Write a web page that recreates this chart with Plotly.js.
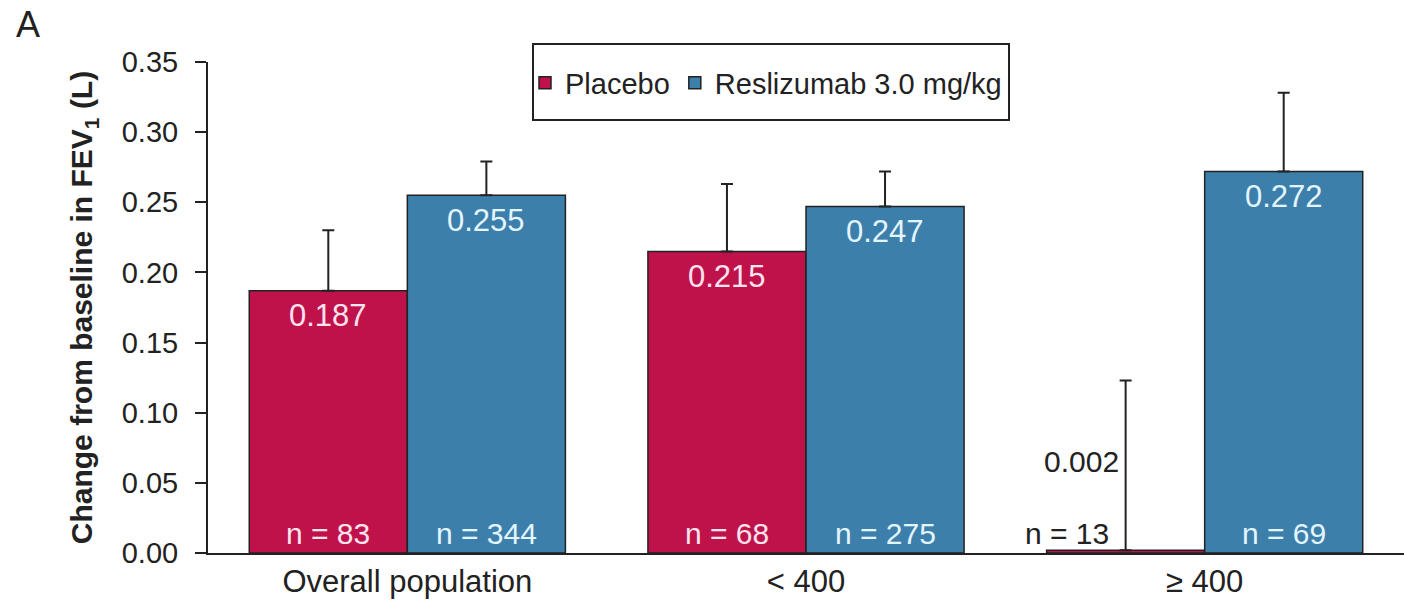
<!DOCTYPE html>
<html>
<head>
<meta charset="utf-8">
<script src="https://cdn.plot.ly/plotly-3.0.1.min.js"></script>
<style>html,body{margin:0;padding:0;background:#fff;}#chart{width:1404px;height:601px;}</style>
</head>
<body>
<div id="chart"></div>
<script>
// ---- data ----
const categories = ["Overall population", "< 400", "\u2265 400"];
const seriesNames = ["Placebo", "Reslizumab 3.0 mg/kg"];
const placeboValues = [0.187, 0.215, 0.002];
const reslizumabValues = [0.255, 0.247, 0.272];
const placeboErrors = [0.043, 0.048, 0.121];
const reslizumabErrors = [0.024, 0.025, 0.056];
const placeboN = [83, 68, 13];
const reslizumabN = [344, 275, 69];
const yTickValues = [0, 0.05, 0.10, 0.15, 0.20, 0.25, 0.30, 0.35];

// ---- style ----
const FONT = '"Liberation Sans", Arial, Helvetica, sans-serif';
const DARK = '#222222';
const colors = ['#C0124A', '#3D7FAB'];
const labelColors = ['#FFE3EE', '#E3F5FF'];
const bargap = 0.207;
const half = (1 - bargap) / 4;   // offset of each bar centre from the category centre

const values = [placeboValues, reslizumabValues];
const errors = [placeboErrors, reslizumabErrors];
const ns = [placeboN, reslizumabN];

const traces = values.map((v, s) => ({
  type: 'bar',
  name: seriesNames[s],
  x: categories,
  y: v,
  marker: {color: colors[s], line: {color: DARK, width: 1.5}},
  error_y: {type: 'data', array: errors[s], symmetric: false, arrayminus: v.map(() => 0),
            color: DARK, thickness: 2, width: 6},
  hoverinfo: 'x+y'
}));

// plot area geometry in px
const L = 208, R = 0, T = 62, B = 48, W = 1404, H = 601;
const pw = W - L - R, ph = H - T - B;
const px = x => (x - L) / pw;
const py = y => (H - B - y) / ph;

const annotations = [];
values.forEach((v, s) => {
  v.forEach((val, i) => {
    const xc = i + (s === 0 ? -half : half);
    const small = val < 0.03;
    if (!small) {
      annotations.push({x: xc, y: val, xref: 'x', yref: 'y', text: val.toFixed(3),
        showarrow: false, yanchor: 'middle', yshift: -25,
        font: {family: FONT, size: 31, color: labelColors[s]}});
      annotations.push({x: xc, y: 0, xref: 'x', yref: 'y', text: 'n = ' + ns[s][i],
        showarrow: false, yanchor: 'middle', yshift: 20,
        font: {family: FONT, size: 30, color: labelColors[s]}});
    } else {
      annotations.push({x: xc, y: val + errors[s][i] / 2, xref: 'x', yref: 'y', text: val.toFixed(3),
        showarrow: false, xanchor: 'right', yanchor: 'middle', xshift: -5, yshift: 4,
        font: {family: FONT, size: 30, color: DARK}});
      annotations.push({x: xc, y: 0, xref: 'x', yref: 'y', text: 'n = ' + ns[s][i],
        showarrow: false, xanchor: 'right', yanchor: 'middle', xshift: -15, yshift: 20,
        font: {family: FONT, size: 30, color: DARK}});
    }
  });
});
annotations.push({x: px(14), y: py(24), xref: 'paper', yref: 'paper', text: 'A',
  showarrow: false, xanchor: 'left', yanchor: 'middle',
  font: {family: FONT, size: 36, color: DARK}});

const layout = {
  width: W, height: H,
  margin: {l: L, r: R, t: T, b: B, pad: 0},
  paper_bgcolor: '#ffffff', plot_bgcolor: '#ffffff',
  font: {family: FONT, color: DARK, size: 29},
  barmode: 'group', bargap: bargap, bargroupgap: 0,
  showlegend: true,
  legend: {orientation: 'h', x: px(525), xanchor: 'left', y: py(83), yanchor: 'middle',
           bgcolor: 'rgba(0,0,0,0)', borderwidth: 0, font: {family: FONT, size: 29, color: DARK},
           itemclick: false, traceorder: 'normal'},
  xaxis: {type: 'category', range: [-0.5, 2.5], showline: true, linecolor: DARK, linewidth: 2,
          ticks: '', showgrid: false, zeroline: false, fixedrange: true,
          tickfont: {family: FONT, size: 31, color: DARK}},
  yaxis: {range: [0, 0.35], tickvals: yTickValues, tickformat: '.2f', showline: true,
          linecolor: DARK, linewidth: 2, ticks: 'outside', ticklen: 11, tickwidth: 2, tickcolor: DARK,
          ticklabelstandoff: 11,
          showgrid: false, zeroline: false, fixedrange: true,
          tickfont: {family: FONT, size: 29, color: DARK},
          title: {text: '<b>Change from baseline in FEV<sub>1</sub> (L)</b>', standoff: 20,
                  font: {family: FONT, size: 30, color: DARK}}},
  shapes: [{type: 'rect', xref: 'paper', yref: 'paper', x0: px(533), x1: px(1009), y0: py(120), y1: py(44),
            line: {color: DARK, width: 2}, fillcolor: 'rgba(0,0,0,0)'}],
  annotations: annotations
};

Plotly.newPlot('chart', traces, layout, {displayModeBar: false, staticPlot: true});
</script>
</body>
</html>
